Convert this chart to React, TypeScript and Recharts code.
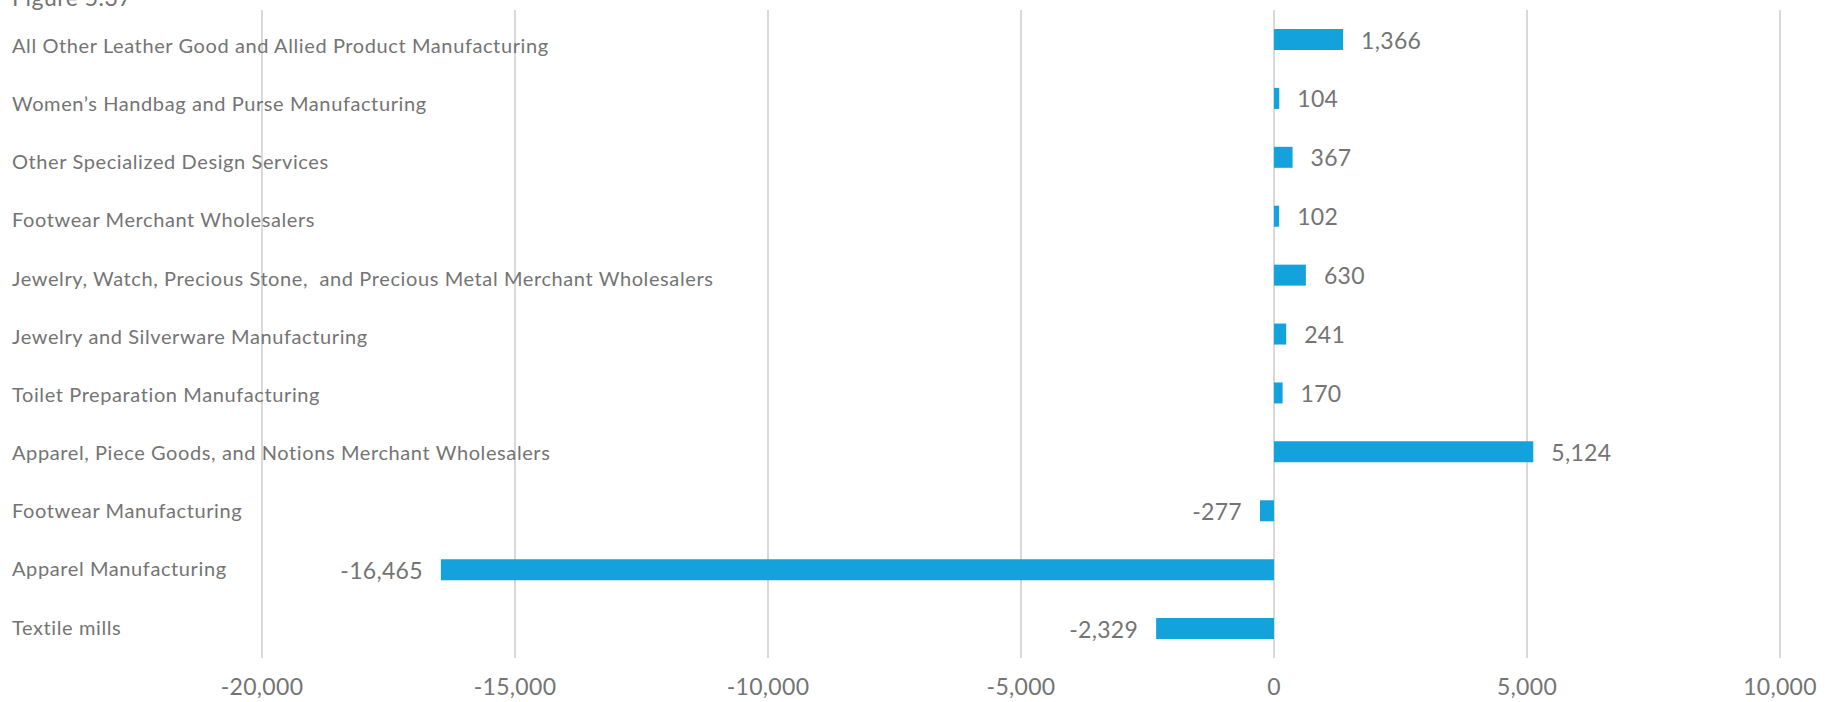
import { BarChart, Bar, XAxis, YAxis, CartesianGrid, LabelList } from 'recharts';

const categories = [
  'All Other Leather Good and Allied Product Manufacturing',
  'Women\u2019s Handbag and Purse Manufacturing',
  'Other Specialized Design Services',
  'Footwear Merchant Wholesalers',
  'Jewelry, Watch, Precious Stone,  and Precious Metal Merchant Wholesalers',
  'Jewelry and Silverware Manufacturing',
  'Toilet Preparation Manufacturing',
  'Apparel, Piece Goods, and Notions Merchant Wholesalers',
  'Footwear Manufacturing',
  'Apparel Manufacturing',
  'Textile mills',
];

const values = [1366, 104, 367, 102, 630, 241, 170, 5124, -277, -16465, -2329];

const xTicks = [-20000, -15000, -10000, -5000, 0, 5000, 10000];

const FONT = 'Lato, "Open Sans", sans-serif';
const TEXT = '#747474';
const BAR = '#13a2dc';

const chartData = categories.map((name, i) => ({ name, value: values[i] }));

const fmt = (v: number) => v.toLocaleString('en-US');

function CategoryTick(props: any) {
  const { y, payload, index } = props;
  // labels sit a little lower than the bars at the top, level at the bottom
  const shift = 5.5 - 0.75 * (index ?? 0);
  return (
    <text x={12} y={y + shift} textAnchor="start" dominantBaseline="central"
      fill={TEXT} fontSize={20} letterSpacing={0.6} fontFamily={FONT}
      style={{ whiteSpace: 'pre' }}>
      {payload.value}
    </text>
  );
}

function ValueTick(props: any) {
  const { x, payload } = props;
  return (
    <text x={x} y={686} textAnchor="middle" dominantBaseline="central"
      fill={TEXT} fontSize={23} letterSpacing={0.3} fontFamily={FONT}>
      {fmt(payload.value)}
    </text>
  );
}

function BarValue(props: any) {
  const { x, y, width, height, value } = props;
  const left = Math.min(x, x + width);
  const right = Math.max(x, x + width);
  const neg = value < 0;
  return (
    <text x={neg ? left - 18 : right + 18} y={y + height / 2}
      textAnchor={neg ? 'end' : 'start'} dominantBaseline="central"
      fill={TEXT} fontSize={23} letterSpacing={0.3} fontFamily={FONT}>
      {fmt(value)}
    </text>
  );
}

export default function App() {
  return (
    <div style={{ position: 'absolute', left: 0, top: 0, width: 1837, height: 702, overflow: 'hidden', background: '#fff' }}>
      <div style={{ position: 'absolute', left: 12, top: -16, fontFamily: FONT, fontSize: 23, color: TEXT, lineHeight: '26px', letterSpacing: 0.5 }}>
        Figure 5.37
      </div>
      <BarChart
        width={1837}
        height={702}
        data={chartData}
        layout="vertical"
        margin={{ top: 10, right: 57, bottom: 0, left: 0 }}
        barCategoryGap={0}
      >
        <CartesianGrid horizontal={false} stroke="#d9d9d9" strokeWidth={2} />
        <XAxis
          type="number"
          domain={[-20000, 10000]}
          ticks={xTicks}
          axisLine={false}
          tickLine={false}
          height={44}
          tick={<ValueTick />}
          interval={0}
        />
        <YAxis
          type="category"
          dataKey="name"
          width={262}
          axisLine={false}
          tickLine={false}
          tick={<CategoryTick />}
          interval={0}
        />
        <Bar dataKey="value" fill={BAR} barSize={21} isAnimationActive={false}>
          <LabelList dataKey="value" content={<BarValue />} />
        </Bar>
      </BarChart>
    </div>
  );
}
